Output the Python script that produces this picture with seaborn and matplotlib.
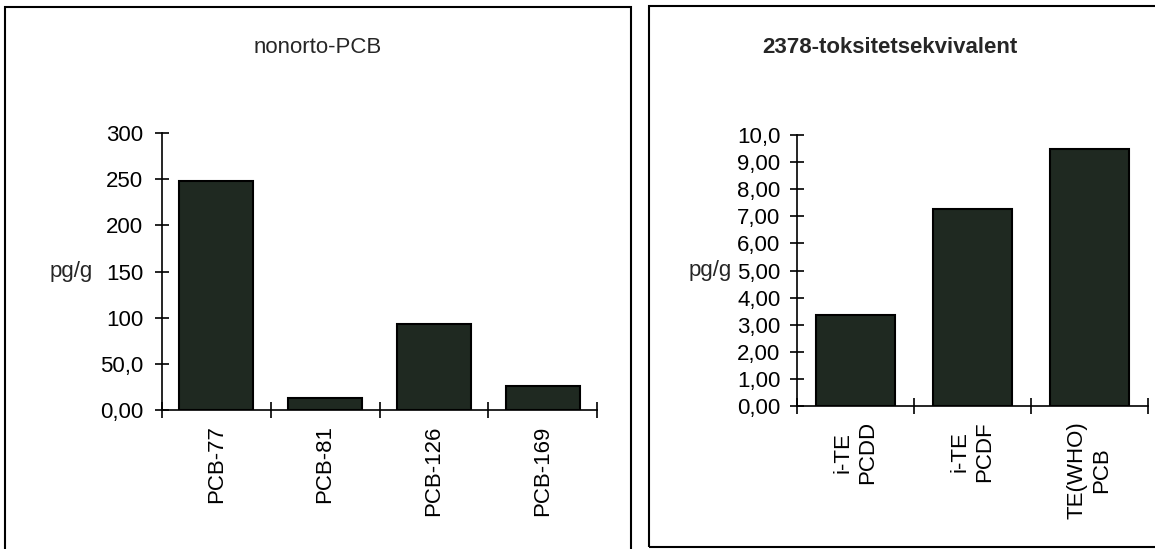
import matplotlib
matplotlib.use("Agg")
import matplotlib.pyplot as plt
import matplotlib.patches as patches
import seaborn as sns
import numpy as np

# nonorto-PCB, pg/g
pcb_labels = ['PCB-77', 'PCB-81', 'PCB-126', 'PCB-169']
pcb_values = [248, 13, 93, 26]
pcb_ticks = [0, 50, 100, 150, 200, 250, 300]
pcb_ticklabels = ['0,00', '50,0', '100', '150', '200', '250', '300']

# 2378-toksitetsekvivalent, pg/g
te_labels = ['i-TE\nPCDD', 'i-TE\nPCDF', 'TE(WHO)\nPCB']
te_values = [3.36, 7.27, 9.47]
te_ticks = [0, 1, 2, 3, 4, 5, 6, 7, 8, 9, 10]
te_ticklabels = ['0,00', '1,00', '2,00', '3,00', '4,00', '5,00',
                 '6,00', '7,00', '8,00', '9,00', '10,0']

sns.set_style('white')
plt.rcParams['font.family'] = ['Liberation Sans', 'DejaVu Sans']
plt.rcParams['font.size'] = 16

W, H = 1155, 549
fig = plt.figure(figsize=(W / 100, H / 100), dpi=100)

bar_color = '#1f2921'


def px_axes(x0, y_top, x1, y_bot):
    return fig.add_axes([x0 / W, 1 - y_bot / H, (x1 - x0) / W, (y_bot - y_top) / H])


def style_axis(ax, labels, ticks, ticklabels, ymax, ylab_x, ypad):
    ax.set_ylim(0, ymax)
    ax.set_yticks(ticks)
    ax.set_yticklabels(ticklabels)
    for s in ['top', 'right']:
        ax.spines[s].set_visible(False)
    for s in ['left', 'bottom']:
        ax.spines[s].set_color('black')
        ax.spines[s].set_linewidth(1.2)
    ax.tick_params(axis='y', direction='inout', length=10, width=1.2,
                   pad=ypad, colors='black', left=True)
    n = len(labels)
    ax.set_xticks(np.arange(n))
    ax.set_xticklabels(labels, rotation=90, multialignment='center')
    ax.set_xticks(np.arange(-0.5, n), minor=True)
    ax.tick_params(axis='x', which='major', length=0, pad=11, colors='black')
    ax.tick_params(axis='x', which='minor', direction='inout', length=12,
                   width=1.2, bottom=True, color='black')
    ax.set_xlim(-0.5, n - 0.5)
    ax.set_xlabel('')
    ax.set_ylabel('pg/g', rotation=0, ha='right', va='center')
    ax.yaxis.set_label_coords(ylab_x, 0.5)


ax1 = px_axes(162, 133, 597, 410)
sns.barplot(x=pcb_labels, y=pcb_values, ax=ax1, color=bar_color,
            saturation=1, edgecolor='black', linewidth=1.5, width=0.68)
style_axis(ax1, pcb_labels, pcb_ticks, pcb_ticklabels, 300, -0.159, 8.5)

ax2 = px_axes(797, 135, 1148, 406)
sns.barplot(x=te_labels, y=te_values, ax=ax2, color=bar_color,
            saturation=1, edgecolor='black', linewidth=1.5, width=0.67)
style_axis(ax2, te_labels, te_ticks, te_ticklabels, 10, -0.185, 7)

fig.text(318 / W, 1 - 53 / H, 'nonorto-PCB', ha='center', va='baseline')
fig.text(890 / W, 1 - 53 / H, '2378-toksitetsekvivalent', ha='center',
         va='baseline', fontweight='bold')

# panel frames
fig.patches.append(patches.Rectangle((4.5 / W, -0.05), (631 - 4.5) / W, 1.05 - 6.5 / H,
                                     transform=fig.transFigure, fill=False,
                                     edgecolor='black', linewidth=1.5))
fig.patches.append(patches.Rectangle((649 / W, 1 - 547 / H), (1170 - 649) / W, (547 - 5.5) / H,
                                     transform=fig.transFigure, fill=False,
                                     edgecolor='black', linewidth=1.5))

fig.savefig('out.png', dpi=100)
plt.close(fig)
